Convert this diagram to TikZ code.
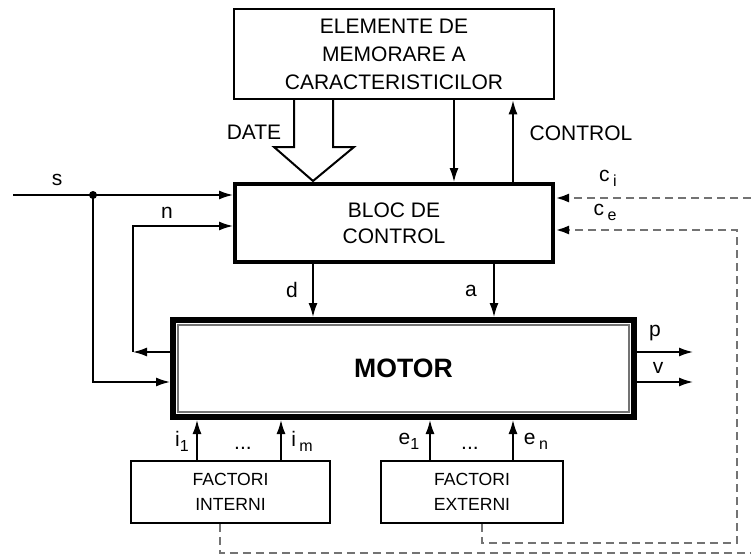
\documentclass[tikz,border=0pt]{standalone}
\usepackage{fontspec}
\setmainfont{Liberation Sans}
\usetikzlibrary{arrows.meta,calc}
\newcommand{\lo}[1]{\raisebox{-0.45ex}{\footnotesize #1}}

\begin{document}
\begin{tikzpicture}[x=0.5pt, y=-0.5pt,
  blk/.style={draw, line width=1.3pt, align=center, inner sep=0pt, font=\fontsize{10.5}{13.5}\selectfont},
  fct/.style={blk, line width=1.2pt, minimum height=30.75pt, font=\fontsize{8.8}{12.5}\selectfont},
  arr/.style={-{Latex[length=7pt,width=4.5pt]}, line width=0.75pt},
  ctl/.style={-{Latex[length=7pt,width=4.5pt,color=black]}, draw=black!55, line width=1.4pt, dash pattern=on 4pt off 2.5pt},
  lab/.style={font=\fontsize{10.5}{12}\selectfont, inner sep=0pt}
]
\useasboundingbox (0,0) rectangle (751,557);

\node[blk, minimum width=160pt, minimum height=45pt, font=\fontsize{10.5}{14}\selectfont] (mem) at (394,54)
  {ELEMENTE DE\\MEMORARE A\\CARACTERISTICILOR};
\node[blk, line width=2pt, minimum width=159pt, minimum height=39pt, font=\fontsize{10.5}{13}\selectfont] (bloc) at (394,223)
  {BLOC DE\\CONTROL};
\node[blk, line width=3pt, minimum width=230.5pt, minimum height=48.5pt, font=\fontsize{13.3}{15}\selectfont\bfseries] (motor) at (403.5,368.5) {MOTOR};
\draw[black!55, line width=1pt] ([shift={(4pt,4pt)}]motor.south west) rectangle ([shift={(-4pt,-4pt)}]motor.north east);
\node[fct, minimum width=99.5pt] (fi) at (230.5,492) {FACTORI\\INTERNI};
\node[fct, minimum width=91pt] (fe) at (472,492) {FACTORI\\EXTERNI};

\coordinate (sin) at (13,195);
\coordinate (sdot) at (93,195);
\coordinate (nc) at (133,352);
\coordinate (ny) at (0,226);
\coordinate (sy) at (0,382);
\coordinate (py) at (0,352);
\coordinate (xout) at (693,0);
\coordinate (xd) at (313,0);
\coordinate (xa) at (494,0);
\coordinate (xm) at (454,0);
\coordinate (xc) at (513,0);
\coordinate (xi1) at (197,0);
\coordinate (xim) at (281,0);
\coordinate (xe1) at (430,0);
\coordinate (xen) at (513,0);
\coordinate (ciy) at (0,198);
\coordinate (cey) at (0,230);
\coordinate (cir) at (751,198);
\coordinate (cib) at (751,553);
\coordinate (cer) at (737,543);
\coordinate (fic) at (220,0);
\coordinate (fec) at (482,0);

\draw[line width=1pt, fill=white] (294,100) -- (294,147) -- (274,147) -- (313,181)
  -- (354,147) -- (333,147) -- (333,100);
\node[lab] (date) at (254,132) {DATE};

\draw[arr] (xm |- mem.south) -- (xm |- bloc.north);
\draw[arr] (xc |- bloc.north) -- (xc |- mem.south);
\node[lab] (ctrl) at (581,133) {CONTROL};

\draw[arr] (sin) -- (sdot) -- (sdot -| bloc.west);
\fill (sdot) circle (2pt);
\draw[arr] (sdot) |- (motor.west |- sy);
\node[lab] (s) at (57,180) {s};

\draw[arr] (motor.west |- nc) -- (nc);
\draw[arr] (nc) |- (bloc.west |- ny);
\node[lab] (n) at (167,213) {n};

\draw[arr] (xd |- bloc.south) -- (xd |- motor.north);
\draw[arr] (xa |- bloc.south) -- (xa |- motor.north);
\node[lab] (d) at (292,290) {d};
\node[lab] (a) at (471,291) {a};

\draw[arr] (motor.east |- py) -- (xout |- py);
\draw[arr] (motor.east |- sy) -- (xout |- sy);
\node[lab] (p) at (655,333) {p};
\node[lab] (v) at (658,368) {v};

\draw[arr] (xi1 |- fi.north) -- (xi1 |- motor.south);
\draw[arr] (xim |- fi.north) -- (xim |- motor.south);
\draw[arr] (xe1 |- fe.north) -- (xe1 |- motor.south);
\draw[arr] (xen |- fe.north) -- (xen |- motor.south);
\node[lab] (i1) at (182,441) {i\lo{1}};
\node[lab] (idots) at (243,448) {...};
\node[lab] (im) at (302,441) {i\,\lo{m}};
\node[lab] (e1) at (409,441) {e\lo{1}};
\node[lab] (edots) at (470,448) {...};
\node[lab] (en) at (536,441) {e\,\lo{n}};

\draw[ctl] (cir) -- (bloc.east |- ciy);
\draw[ctl, -] (fic |- fi.south) |- (cib);
\draw[ctl] (fec |- fe.south) |- (cer) |- (bloc.east |- cey);
\node[lab] (ci) at (608,178) {c\,\lo{i}};
\node[lab] (ce) at (605,212) {c\,\lo{e}};
\end{tikzpicture}
\end{document}
